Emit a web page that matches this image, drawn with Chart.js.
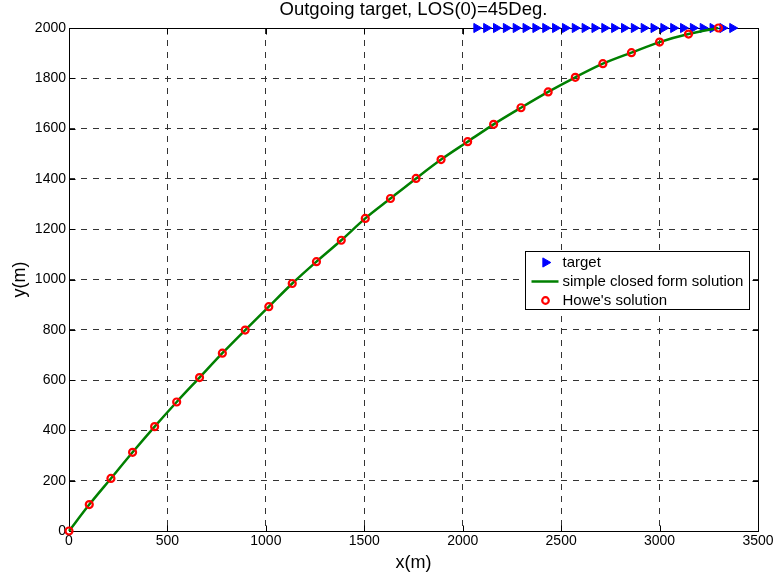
<!DOCTYPE html>
<html>
<head>
<meta charset="utf-8">
<title>Outgoing target</title>
<script src="https://cdn.jsdelivr.net/npm/chart.js@4.4.0/dist/chart.umd.min.js"></script>
<style>
body { margin: 0; background: #fff; }
canvas { display: block; }
</style>
</head>
<body>
<canvas id="grafica" width="783" height="574"></canvas>
<script>
// datos
var targetX = [2070, 2120, 2170, 2220, 2270, 2320, 2370, 2420, 2470, 2520, 2570, 2620, 2670, 2720,
               2770, 2820, 2870, 2920, 2970, 3020, 3070, 3120, 3170, 3220, 3270, 3320, 3370];
var targetY = [2000, 2000, 2000, 2000, 2000, 2000, 2000, 2000, 2000, 2000, 2000, 2000, 2000, 2000,
               2000, 2000, 2000, 2000, 2000, 2000, 2000, 2000, 2000, 2000, 2000, 2000, 2000];

var howeX = [0, 103, 213, 323, 435, 547, 663, 779, 895, 1015, 1134, 1257, 1383, 1505, 1633,
             1763, 1890, 2025, 2157, 2296, 2434, 2572, 2712, 2857, 3000, 3147, 3299];
var howeY = [0, 105, 209, 313, 415, 513, 610, 707, 799, 892, 984, 1071, 1156, 1243, 1322,
             1402, 1477, 1548, 1617, 1683, 1746, 1804, 1858, 1902, 1944, 1976, 2000];

// la curva verde pasa por los mismos puntos que los circulos
var closedX = howeX;
var closedY = howeY;

var xTicks = [0, 500, 1000, 1500, 2000, 2500, 3000, 3500];
var yTicks = [0, 200, 400, 600, 800, 1000, 1200, 1400, 1600, 1800, 2000];

var fuente = "'Liberation Sans', Arial, Helvetica, sans-serif";

function puntos(xs, ys) {
    var salida = [];
    for (var i = 0; i < xs.length; i++) {
        salida.push({ x: xs[i], y: ys[i] });
    }
    return salida;
}

// marco negro con ticks hacia adentro (estilo matlab)
var marco = {
    id: 'marco',
    beforeDatasetsDraw: function(chart) {
        var ctx = chart.ctx;
        var a = chart.chartArea;
        var l = Math.round(a.left) + 0.5, r = Math.round(a.right) + 0.5;
        var t = Math.round(a.top) + 0.5, b = Math.round(a.bottom) + 0.5;
        ctx.save();
        ctx.strokeStyle = '#000';
        ctx.lineWidth = 1;
        ctx.setLineDash([]);
        ctx.strokeRect(l, t, r - l, b - t);
        ctx.beginPath();
        chart.scales.x.ticks.forEach(function(tk) {
            var px = Math.round(chart.scales.x.getPixelForValue(tk.value)) + 0.5;
            ctx.moveTo(px, b); ctx.lineTo(px, b - 6);
            ctx.moveTo(px, t); ctx.lineTo(px, t + 6);
        });
        chart.scales.y.ticks.forEach(function(tk) {
            var py = Math.round(chart.scales.y.getPixelForValue(tk.value)) + 0.5;
            ctx.moveTo(l, py); ctx.lineTo(l + 6, py);
            ctx.moveTo(r, py); ctx.lineTo(r - 6, py);
        });
        ctx.stroke();
        ctx.restore();
    }
};

// leyenda dentro del area del grafico
var leyenda = {
    id: 'leyenda',
    afterDraw: function(chart) {
        var ctx = chart.ctx;
        var a = chart.chartArea;
        var lx = Math.round(a.right - 233) + 0.5;
        var ly = Math.round(a.top + 223) + 0.5;
        var lw = 224, lh = 58;
        ctx.save();
        ctx.fillStyle = '#fff';
        ctx.fillRect(lx, ly, lw, lh);
        ctx.strokeStyle = '#000';
        ctx.lineWidth = 1;
        ctx.strokeRect(lx, ly, lw, lh);

        // target
        ctx.fillStyle = '#0000ff';
        ctx.strokeStyle = '#0000ff';
        Chart.helpers.drawPoint(ctx, { pointStyle: 'triangle', rotation: 90, radius: 5.3, borderWidth: 1 }, lx + 20, ly + 11);

        // linea verde
        ctx.beginPath();
        ctx.strokeStyle = '#008000';
        ctx.lineWidth = 2.5;
        ctx.moveTo(lx + 6, ly + 30);
        ctx.lineTo(lx + 33, ly + 30);
        ctx.stroke();

        // circulo rojo
        ctx.fillStyle = 'rgba(0,0,0,0)';
        ctx.strokeStyle = '#ff0000';
        ctx.lineWidth = 2.2;
        Chart.helpers.drawPoint(ctx, { pointStyle: 'circle', radius: 3.3, borderWidth: 2.2 }, lx + 20, ly + 49);

        ctx.fillStyle = '#000';
        ctx.font = '15px ' + fuente;
        ctx.textBaseline = 'middle';
        ctx.textAlign = 'left';
        ctx.fillText('target', lx + 37, ly + 11);
        ctx.fillText('simple closed form solution', lx + 37, ly + 30);
        ctx.fillText("Howe's solution", lx + 37, ly + 49);
        ctx.restore();
    }
};

// etiquetas sin separador de miles
function etiqueta(valor) {
    return String(valor);
}

new Chart(document.getElementById('grafica'), {
    type: 'scatter',
    data: {
        datasets: [
            {
                label: "Howe's solution",
                data: puntos(howeX, howeY),
                showLine: false,
                pointStyle: 'circle',
                pointRadius: 3.5,
                pointBorderWidth: 2.2,
                pointBorderColor: '#ff0000',
                pointBackgroundColor: 'rgba(0,0,0,0)',
                clip: false,
                order: 0
            },
            {
                label: 'simple closed form solution',
                data: puntos(closedX, closedY),
                showLine: true,
                borderColor: '#008000',
                borderWidth: 2.5,
                tension: 0.3,
                pointRadius: 0,
                clip: false,
                order: 1
            },
            {
                label: 'target',
                data: puntos(targetX, targetY),
                showLine: false,
                pointStyle: 'triangle',
                rotation: 90,
                pointRadius: 5.3,
                pointBorderWidth: 1,
                pointBorderColor: '#0000ff',
                pointBackgroundColor: '#0000ff',
                clip: false,
                order: 2
            }
        ]
    },
    options: {
        responsive: false,
        animation: false,
        layout: { padding: { left: 0, right: 25, top: 1, bottom: 0 } },
        plugins: {
            legend: { display: false },
            tooltip: { enabled: false },
            title: {
                display: true,
                text: 'Outgoing target, LOS(0)=45Deg.',
                color: '#000',
                fullSize: false,
                font: { family: fuente, size: 18.5, weight: 'normal', lineHeight: 1 },
                padding: { top: 0, bottom: 8.5 }
            }
        },
        scales: {
            x: {
                type: 'linear',
                min: 0,
                max: 3500,
                afterBuildTicks: function(scale) {
                    scale.ticks = xTicks.map(function(v) { return { value: v }; });
                },
                afterFit: function(scale) { scale.height = 43; },
                grid: { color: '#333', lineWidth: 1, drawTicks: false },
                border: { display: false, dash: [6, 6] },
                ticks: { color: '#000', padding: 2, maxRotation: 0, callback: etiqueta, font: { family: fuente, size: 14 } },
                title: {
                    display: true,
                    text: 'x(m)',
                    color: '#000',
                    font: { family: fuente, size: 18 },
                    padding: { top: 5, bottom: 0 }
                }
            },
            y: {
                type: 'linear',
                min: 0,
                max: 2000,
                afterBuildTicks: function(scale) {
                    scale.ticks = yTicks.map(function(v) { return { value: v }; });
                },
                afterFit: function(scale) { scale.width = 69; },
                grid: { color: '#333', lineWidth: 1, drawTicks: false },
                border: { display: false, dash: [6, 6] },
                ticks: { color: '#000', padding: 3, callback: etiqueta, font: { family: fuente, size: 14 } },
                title: {
                    display: true,
                    text: 'y(m)',
                    color: '#000',
                    font: { family: fuente, size: 18 },
                    padding: { top: 9, bottom: 0 }
                }
            }
        }
    },
    plugins: [marco, leyenda]
});
</script>
</body>
</html>
